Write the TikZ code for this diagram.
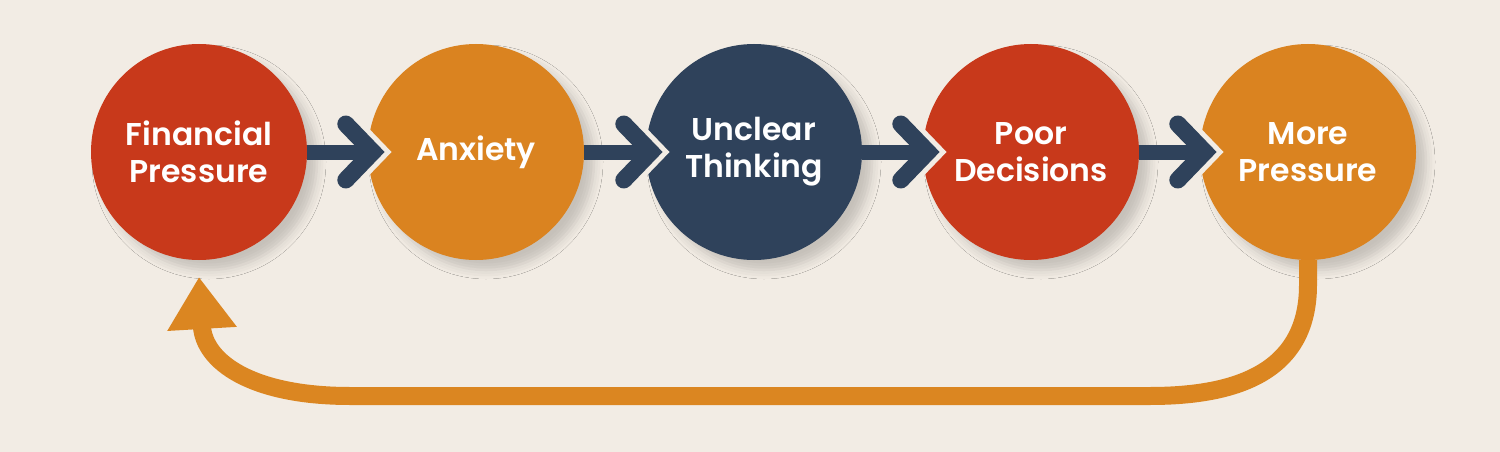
\documentclass[tikz,border=0pt]{standalone}
\usepackage{fontspec}
\newfontfamily\lab{Poppins}[UprightFont=* SemiBold]
\usetikzlibrary{calc,arrows.meta,shadows.blur}
\definecolor{bgc}{HTML}{F2ECE4}
\definecolor{redc}{HTML}{C8391B}
\definecolor{orac}{HTML}{DA8320}
\definecolor{navyc}{HTML}{2F425B}
\definecolor{loopc}{HTML}{DB8621}
\tikzset{
  stage/.style={circle, minimum size=216pt, inner sep=0pt, align=center,
    text=white, font=\lab\fontsize{31.5}{37}\selectfont,
    blur shadow={shadow xshift=10pt, shadow yshift=-10pt, shadow blur radius=9pt, shadow opacity=18}},
  shaft/.style={draw=navyc, line width=15pt},
  chev/.style={draw=navyc, line width=17pt, line cap=round, line join=miter},
  chevgap/.style={draw=bgc, line width=27pt, line cap=round, line join=miter},
  loopline/.style={draw=loopc, line width=18pt, -{Triangle[length=52pt,width=66pt]}}
}
\begin{document}
\begin{tikzpicture}[x=1pt,y=-1pt]
\fill[bgc] (0,0) rectangle (1500,452);
\useasboundingbox (0,0) rectangle (1500,452);
\node[stage, fill=redc]  (c1) at (199,152) {Financial\\Pressure};
\node[stage, fill=orac]  (c2) at (476,152) {Anxiety};
\node[stage, fill=navyc] (c3) at (754,152) {Unclear\\Thinking};
\node[stage, fill=redc]  (c4) at (1031,152) {Poor\\Decisions};
\node[stage, fill=orac]  (c5) at (1308,152) {More\\Pressure};
\foreach \a/\b in {c1/c2,c2/c3,c3/c4,c4/c5}{
  \draw[chevgap] ($(\b.west)+(5,0)$) ++(-27,-28) -- ++(27,28) -- ++(-27,28);
  \draw[shaft] (\a.east) -- ($(\b.west)+(2,0)$);
  \draw[chev] ($(\b.west)+(5,0)$) ++(-27,-28) -- ++(27,28) -- ++(-27,28);
}
\coordinate (loopend) at (199,277);
\draw[loopline] (c5.south) -- (1308,285) .. controls (1308,370) and (1240,396) .. (1150,396)
  -- (350,396) .. controls (252,396) and (204,362) .. (loopend);
\end{tikzpicture}
\end{document}
